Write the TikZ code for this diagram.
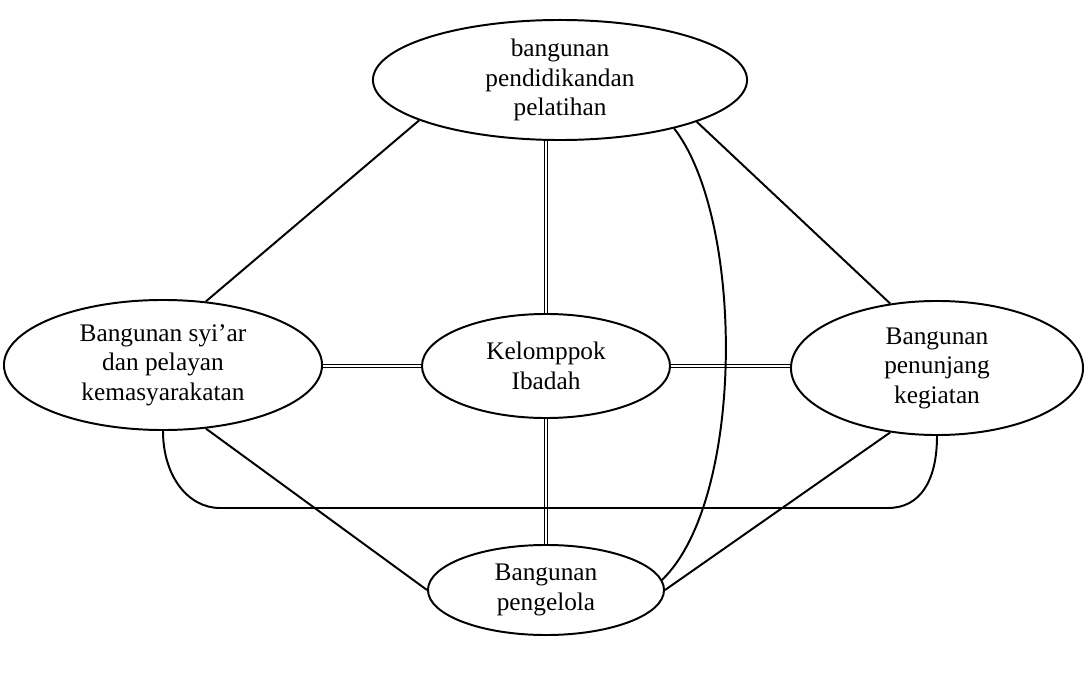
\documentclass[tikz,border=0pt]{standalone}
\usepackage{fontspec}
\setmainfont{Liberation Serif}
\usetikzlibrary{shapes.geometric}
\begin{document}
\begin{tikzpicture}[x=0.025cm,y=-0.025cm,
  every node/.style={font=\fontsize{18}{21}\selectfont},
  oval/.style={ellipse, draw, line width=1.4pt, inner sep=0pt, align=center},
  link/.style={line width=1.4pt},
  dbl/.style={double, double distance=1.6pt, line width=0.7pt}]
\useasboundingbox (0,0) rectangle (1084,675);

% the five building groups
\node[oval, minimum width=9.35cm, minimum height=3cm] (top) at (560,80)
  {bangunan\\pendidikandan\\pelatihan};
\node[oval, minimum width=7.95cm, minimum height=3.25cm] (left) at (163,365)
  {Bangunan syi'ar\\dan pelayan\\kemasyarakatan};
\node[oval, minimum width=6.2cm, minimum height=2.6cm] (mid) at (546,366)
  {Kelomppok\\Ibadah};
\node[oval, minimum width=7.3cm, minimum height=3.35cm] (right) at (937,368)
  {Bangunan\\penunjang\\kegiatan};
\node[oval, minimum width=5.9cm, minimum height=2.25cm] (bot) at (546,590)
  {Bangunan\\pengelola};

% double links to the worship group
\draw[dbl] (mid.north |- top.south) -- (mid.north);
\draw[dbl] (mid.south) -- (mid.south |- bot.north);
\draw[dbl] (mid.west -| left.east) -- (mid.west);
\draw[dbl] (mid.east) -- (mid.east -| right.west);

% outer ring of single links
\draw[link] (top.196) -- (left.56);
\draw[link] (top.343) -- (right.126);
\draw[link] (left.304) -- (bot.west);
\draw[link] (right.234) -- (bot.east);

% long curve from the top group down to the management group
\draw[link] (top.337) .. controls (745,220) and (745,500) .. (bot.5);

% lower loop joining the two side groups
\coordinate (bl) at (220,508);
\coordinate (br) at (888,508);
\draw[link] (left.south) .. controls +(0,45) and +(-32,0) .. (bl)
  -- (br) .. controls +(32,0) and +(0,45) .. (right.south);
\end{tikzpicture}
\end{document}
